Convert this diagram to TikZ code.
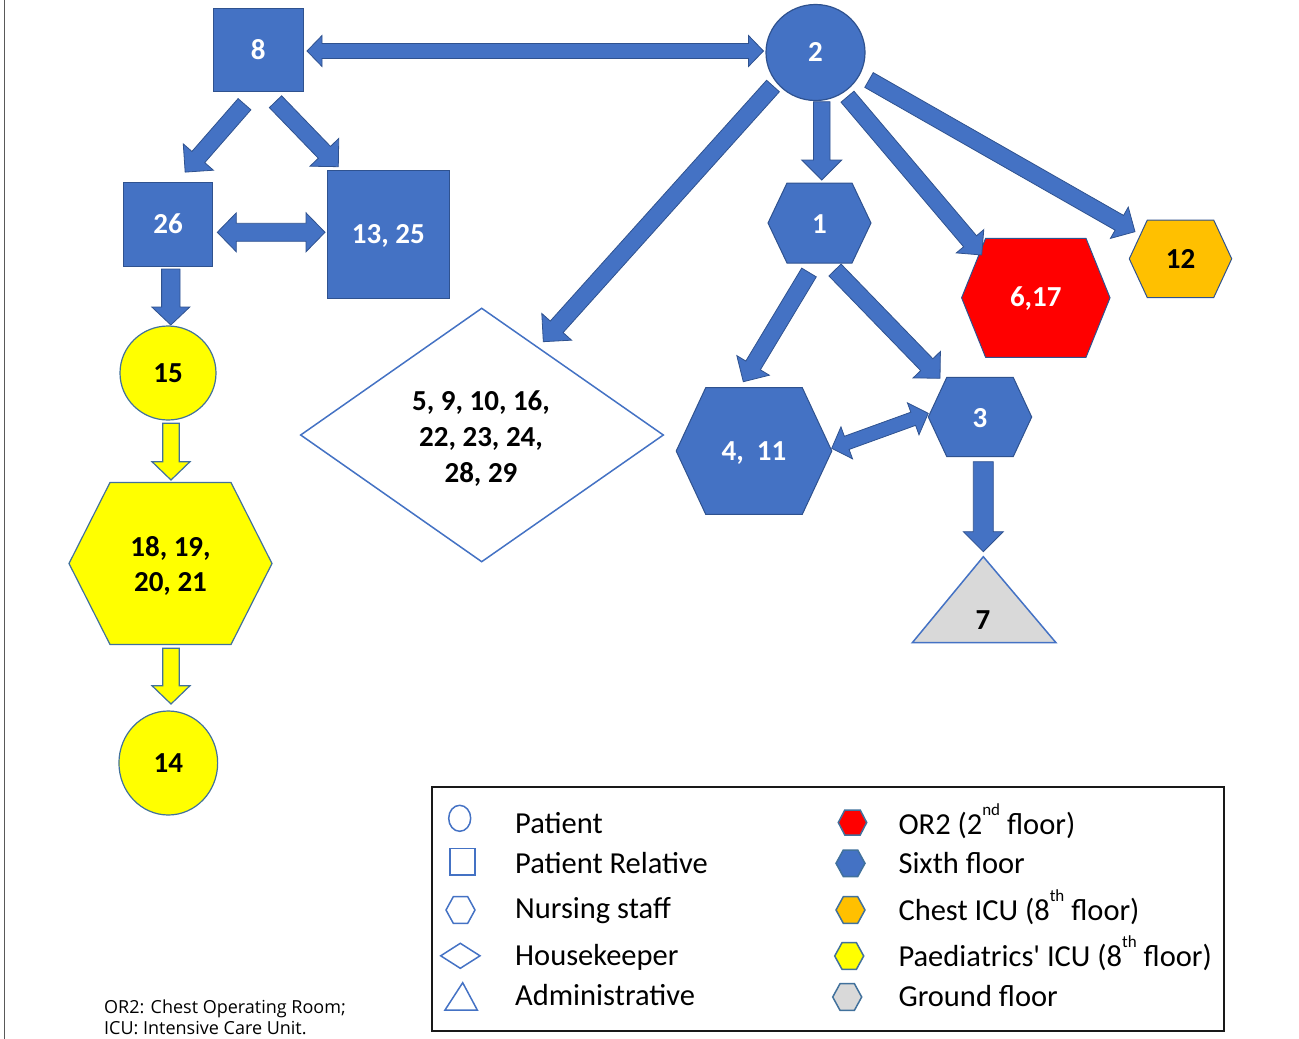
\documentclass[tikz,border=0pt]{standalone}
\usepackage{fontspec}
\setmainfont{Carlito}
\newfontfamily\notefont{Open Sans}
\usetikzlibrary{calc,shapes.geometric}

\definecolor{pblue}{HTML}{4472C4}
\definecolor{pedge}{HTML}{2F528F}
\definecolor{yedge}{HTML}{41719C}
\definecolor{pyellow}{HTML}{FFFF00}
\definecolor{pred}{HTML}{FF0000}
\definecolor{porange}{HTML}{FFC000}
\definecolor{pgray}{HTML}{D9D9D9}
\definecolor{rulegray}{HTML}{595959}

% small raised ordinal suffix
\newcommand\ordsup[1]{\raisebox{0.62em}{\fontsize{17}{17}\selectfont #1}}

% block arrow between two points: [style]{from}{to}{half shaft}{half head}{head length}{1 = double headed}
\newdimen\baXa \newdimen\baYa \newdimen\baXb \newdimen\baYb
\newcommand\blockarr[7][]{%
  \path (#2) coordinate (baA) (#3) coordinate (baB);
  \pgfextractx{\baXa}{\pgfpointanchor{baA}{center}}%
  \pgfextracty{\baYa}{\pgfpointanchor{baA}{center}}%
  \pgfextractx{\baXb}{\pgfpointanchor{baB}{center}}%
  \pgfextracty{\baYb}{\pgfpointanchor{baB}{center}}%
  \pgfmathsetmacro\baAng{atan2(\baYb-\baYa,\baXb-\baXa)}%
  \pgfmathsetmacro\baLen{veclen(\baXb-\baXa,\baYb-\baYa)}%
  \pgfmathsetmacro\baNeck{\baLen-#6}%
  \begin{scope}[shift={(\the\baXa,\the\baYa)}, rotate=\baAng]
    \ifnum#7=1
      \path[#1] (0pt,0pt) -- (#6pt,#5pt) -- (#6pt,#4pt) -- (\baNeck pt,#4pt) -- (\baNeck pt,#5pt)
        -- (\baLen pt,0pt) -- (\baNeck pt,-#5pt) -- (\baNeck pt,-#4pt) -- (#6pt,-#4pt) -- (#6pt,-#5pt) -- cycle;
    \else
      \path[#1] (0pt,#4pt) -- (\baNeck pt,#4pt) -- (\baNeck pt,#5pt) -- (\baLen pt,0pt)
        -- (\baNeck pt,-#5pt) -- (\baNeck pt,-#4pt) -- (0pt,-#4pt) -- cycle;
    \fi
  \end{scope}
}

% flat-topped hexagon: [style]{centre}{half width}{half height}{inset of top edge}
\newcommand\hexpath[5][]{%
  \path[#1] (#2) ++(-#3,0) -- ++(#5,-#4) -- ++({2*(#3)-2*(#5)},0) -- ++(#5,#4)
    -- ++(-#5,#4) -- ++({-2*(#3)+2*(#5)},0) -- cycle;}

\begin{document}
\begin{tikzpicture}[x=1pt, y=-1pt, line join=miter,
  lbl/.style={font=\bfseries\fontsize{29}{35}\selectfont, inner sep=0pt, text height=18pt, text depth=0pt},
  lblm/.style={font=\bfseries\fontsize{29}{35.8}\selectfont, inner sep=0pt, align=center},
  wlbl/.style={lbl, text=white},
  relbox/.style={rectangle, fill=pblue, draw=pedge, line width=1pt, wlbl},
  patient/.style={ellipse, inner sep=0pt, line width=1.2pt, lbl},
  arr/.style={fill=pblue, draw=pedge, line width=0.8pt},
  yarr/.style={fill=pyellow, draw=yedge, line width=1.2pt},
  bluehex/.style={fill=pblue, draw=pedge, line width=1pt},
  legsym/.style={draw=pblue, line width=1.5pt},
  leghex/.style={draw=yedge, line width=1.5pt},
  legtxt/.style={font=\fontsize{30.5}{36}\selectfont, anchor=base west, inner sep=0pt},
  notetxt/.style={font=\notefont\fontsize{18}{21}\selectfont, anchor=base west, inner sep=0pt}]

\useasboundingbox (0,0) rectangle (1299,1039);
\draw[rulegray, line width=1.5pt] (4.5,0) -- (4.5,1039);

% ---------- patient relatives (squares)
\node[relbox, minimum width=90pt, minimum height=83pt] (n8) at (258.3,50) {8};
\node[relbox, minimum width=89.4pt, minimum height=84pt] (n26) at (168,224.7) {26};
\node[relbox, minimum width=122pt, minimum height=127.6pt] (n1325) at (388.3,234.5) {13, 25};

% ---------- patients (circles)
\node[patient, fill=pblue, draw=pedge, text=white, minimum width=99pt, minimum height=96pt] (n2) at (815.5,52.5) {2};
\node[patient, fill=pyellow, draw=yedge, minimum width=96pt, minimum height=94pt] (n15) at (168,373) {15};
\node[patient, fill=pyellow, draw=yedge, minimum width=98.7pt, minimum height=104pt] (n14) at (168.3,763) {14};

% ---------- nursing staff (hexagons)
\hexpath[fill=pyellow, draw=yedge, line width=1.2pt]{170.5,563.5}{101.5}{81}{41}
\node[lblm] (n1821) at (170.5,566) {18, 19,\\20, 21};
\hexpath[bluehex]{819.5,223}{51.5}{40}{19}
\node[wlbl] (n1) at (819.5,224) {1};
\hexpath[fill=pred, draw=pedge, line width=1pt]{1035.8,297.8}{74.2}{59.5}{24}
\node[wlbl] (n617) at (1035.8,297.8) {6,17};
\hexpath[fill=porange, draw=pedge, line width=1pt]{1180.5,258.8}{51.2}{38.8}{18}
\node[lbl] (n12) at (1180.5,259.5) {12};
\hexpath[bluehex]{754,451}{77.8}{63.3}{29.5}
\node[wlbl] (n411) at (754,451.5) {4,\ \ 11};
\hexpath[bluehex]{980,417}{51.7}{39.7}{18.5}
\node[wlbl] (n3) at (980,418) {3};

% ---------- housekeepers (diamond)
\path[draw=pblue, fill=white, line width=1.5pt] (300.7,435) -- (481.7,308.3) -- (663.3,435) -- (481.7,561.7) -- cycle;
\node[lblm] (nD) at (481,438.8) {5, 9, 10, 16,\\22, 23, 24,\\28, 29};

% ---------- administrative (triangle)
\path[fill=pgray, draw=pblue, line width=1.5pt] (983.3,556.7) -- (1056,642.7) -- (912.3,642.7) -- cycle;
\node[lbl] (n7) at (983,620) {7};

% ---------- flows
\blockarr[arr]{$(n8)+(48.7,1)$}{$(n2)+(-52,-1.5)$}{7.5}{15.5}{15}{1}
\blockarr[arr]{$(n8)+(-13.8,54.2)$}{$(n26)+(17,-52.4)$}{8.5}{20}{20}{0}
\blockarr[arr]{$(n8)+(17.2,51.7)$}{$(n1325)+(-50,-67.8)$}{8.5}{20}{20}{0}
\blockarr[arr]{$(n26)+(49.3,7.6)$}{$(n1325)+(-63.3,-2.2)$}{9}{19.5}{19}{1}
\blockarr[arr]{$(n26)+(2.8,44.3)$}{$(n15)+(2.8,-48)$}{9.2}{19}{18}{0}
\blockarr[yarr]{$(n15)+(3,50.3)$}{$(n1821)+(0.5,-86)$}{8.3}{19}{18.3}{0}
\blockarr[yarr]{$(n1821)+(0.5,82.3)$}{$(n14)+(2.7,-59)$}{8.3}{19}{18.3}{0}
\blockarr[arr]{$(n2)+(-42.5,33.5)$}{$(nD)+(62.3,-97.1)$}{8.6}{20}{20}{0}
\blockarr[arr]{$(n2)+(6.2,49.2)$}{$(n1)+(2.2,-44)$}{8.3}{20}{20}{0}
\blockarr[arr]{$(n2)+(32,44.2)$}{$(n617)+(-54.1,-42.8)$}{8.5}{18}{18}{0}
\blockarr[arr]{$(n2)+(53.5,27.5)$}{$(n12)+(-45.5,-27.8)$}{8.5}{18}{18}{0}
\blockarr[arr]{$(n1)+(-10.5,48.5)$}{$(n411)+(-10.7,-69.8)$}{8.5}{19}{19}{0}
\blockarr[arr]{$(n1)+(15.5,46)$}{$(n3)+(-40,-39.7)$}{8.5}{19}{19}{0}
\blockarr[arr]{$(n411)+(77.7,-3.2)$}{$(n3)+(-51.7,-4.7)$}{7}{17}{16}{1}
\blockarr[arr]{$(n3)+(3.3,43.7)$}{$(n7)+(0.3,-68.3)$}{10}{20}{20}{0}

% ---------- legend
\draw[black!90, line width=2pt] (431.7,786.7) rectangle (1224.3,1031);
\draw[legsym] (459.7,818.3) ellipse [x radius=11pt, y radius=13pt];
\draw[legsym] (450,848.3) rectangle (475,875);
\hexpath[legsym]{460.5,910}{14.5}{13.3}{7.3}
\path[legsym] (440.7,955.8) -- (460.3,943.3) -- (480,955.8) -- (460.3,968.3) -- cycle;
\path[legsym] (462.7,982.7) -- (477.3,1010) -- (445,1010) -- cycle;
\node[legtxt] (lg1) at (515,833.3) {Patient};
\node[legtxt] (lg2) at (515,873.3) {Patient Relative};
\node[legtxt] (lg3) at (515,918.3) {Nursing staff};
\node[legtxt] (lg4) at (515,965) {Housekeeper};
\node[legtxt] (lg5) at (515,1005) {Administrative};

\hexpath[leghex, fill=pred]{852.5,822.5}{14.2}{12.5}{6.5}
\hexpath[leghex, fill=pblue]{850.5,863.3}{14.5}{13.3}{7.3}
\hexpath[leghex, fill=porange]{850.5,910}{14.5}{13.3}{7.3}
\hexpath[leghex, fill=pyellow]{849.2,956}{14.5}{13.3}{7.3}
\hexpath[leghex, fill=pgray]{847.2,997}{14.5}{13.3}{7.3}
\node[legtxt] (lg6) at (898.3,834) {OR2 (2\ordsup{nd} floor)};
\node[legtxt] (lg7) at (898.3,873.3) {Sixth floor};
\node[legtxt] (lg8) at (898.3,920) {Chest ICU (8\ordsup{th} floor)};
\node[legtxt] (lg9) at (898.3,966.7) {Paediatrics\textquotesingle{} ICU (8\ordsup{th} floor)};
\node[legtxt] (lg10) at (898.3,1006.7) {Ground floor};

% ---------- abbreviations
\node[notetxt] (ab1) at (104,1013) {OR2: Chest Operating Room;};
\node[notetxt] (ab2) at (104,1034) {ICU: Intensive Care Unit.};
\end{tikzpicture}
\end{document}
